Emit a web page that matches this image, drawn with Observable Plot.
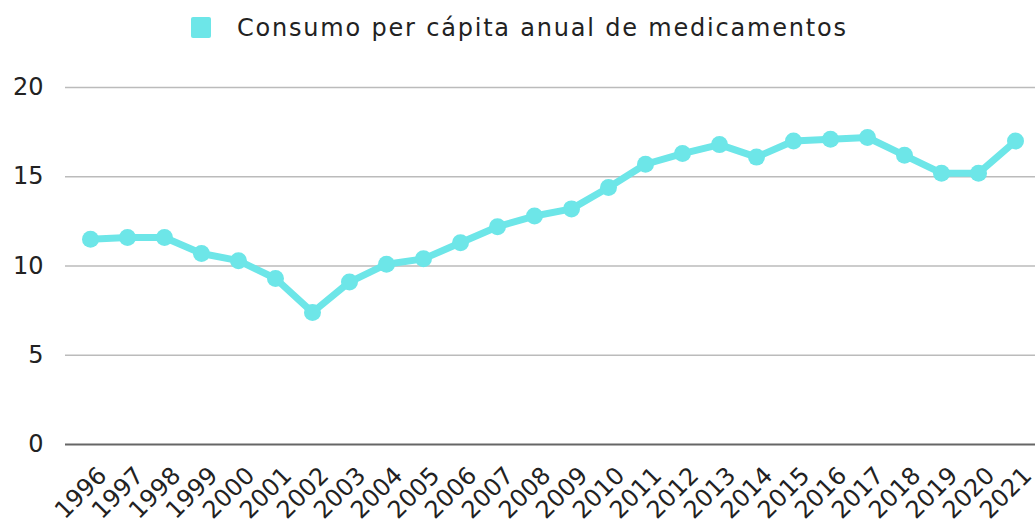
<!DOCTYPE html>
<html>
<head>
<meta charset="utf-8">
<script src="https://cdn.jsdelivr.net/npm/d3@7"></script>
<script src="https://cdn.jsdelivr.net/npm/@observablehq/plot@0.6"></script>
<style>
  html, body { margin: 0; padding: 0; background: #fff; }
  body { width: 1035px; height: 522px; overflow: hidden; font-family: "DejaVu Sans", sans-serif; }
  #legend { height: 55px; display: flex; align-items: center; justify-content: flex-start; padding-left: 191px; box-sizing: border-box; }
  #legend .sw { width: 20px; height: 21px; background: #6de6e8; margin-right: 26px; border-radius: 2px; }
  #legend .lb { font-size: 24px; color: #222; letter-spacing: 1.8px; }
</style>
</head>
<body>
<div id="legend"><div class="sw"></div><div class="lb">Consumo per cápita anual de medicamentos</div></div>
<div id="chart"></div>
<script>
const years = ["1996","1997","1998","1999","2000","2001","2002","2003","2004","2005","2006","2007","2008","2009","2010","2011","2012","2013","2014","2015","2016","2017","2018","2019","2020","2021"];
const consumo = [11.5,11.6,11.6,10.7,10.3,9.3,7.4,9.1,10.1,10.4,11.3,12.2,12.8,13.2,14.4,15.7,16.3,16.8,16.1,17.0,17.1,17.2,16.2,15.2,15.2,17.0];
const yTicks = [0,5,10,15,20];
const seriesName = "Consumo per cápita anual de medicamentos";

const data = years.map((y, i) => ({year: y, value: consumo[i]}));
const color = "#6de6e8";

const chart = Plot.plot({
  width: 1035,
  height: 467,
  marginTop: 32,
  marginBottom: 78,
  marginLeft: 65,
  marginRight: 0,
  style: {fontFamily: "DejaVu Sans, sans-serif", fontSize: "24px", color: "#222", background: "#fff"},
  x: {type: "point", domain: years, range: [83, 1021], padding: 0, label: null},
  y: {domain: [0, 20], ticks: yTicks, label: null},
  marks: [
    Plot.ruleY(yTicks.filter(d => d > 0), {stroke: "#bbbbbb", strokeWidth: 1.5}),
    Plot.ruleY([0], {stroke: "#666", strokeWidth: 2}),
    Plot.axisY({ticks: yTicks, tickSize: 0, tickPadding: 22, fontSize: 24, label: null}),
    Plot.axisX({tickSize: 0, tickRotate: -45, tickPadding: 0, dx: 12, dy: 27, fontSize: 24, label: null}),
    Plot.line(data, {x: "year", y: "value", stroke: color, strokeWidth: 7, strokeLinejoin: "round"}),
    Plot.dot(data, {x: "year", y: "value", fill: color, r: 8.5})
  ]
});
document.getElementById("chart").appendChild(chart);
</script>
</body>
</html>
